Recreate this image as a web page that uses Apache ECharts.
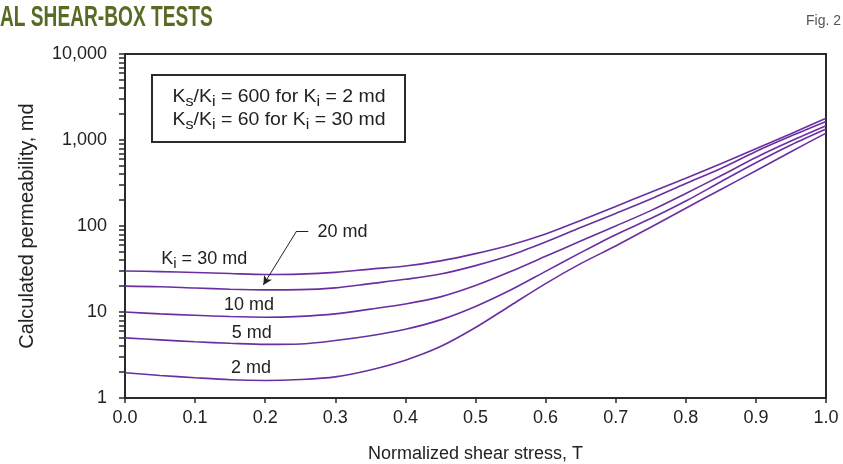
<!DOCTYPE html>
<html><head><meta charset="utf-8">
<script src="https://cdn.jsdelivr.net/npm/echarts@6/dist/echarts.min.js"></script>
<style>html,body{margin:0;padding:0;background:#fff}#c{width:843px;height:464px}</style>
</head><body><div id="c"></div>
<script>
// ---- data ----
const T = [0, 0.05, 0.1, 0.15, 0.2, 0.25, 0.3, 0.35, 0.4, 0.45, 0.5, 0.55, 0.6, 0.65, 0.7, 0.75, 0.8, 0.85, 0.9, 0.95, 1.0];
const k30 = [30, 29.5, 28.8, 28.0, 27.3, 27.6, 28.9, 31.5, 34.2, 39.3, 47.7, 60.2, 80.7, 116, 169, 247, 359, 530, 791, 1181, 1795];
const k20 = [20, 19.7, 19.0, 18.4, 18.1, 18.2, 19.1, 21.4, 24.0, 27.6, 34.6, 45.6, 65, 96, 140, 206, 312, 467, 735, 1110, 1640];
const k10 = [10, 9.5, 9.16, 8.85, 8.7, 8.9, 9.5, 10.8, 12.4, 15.0, 20.3, 29.5, 44.4, 66.9, 100, 151, 239, 384, 626, 971, 1462];
const k5  = [5.0, 4.74, 4.5, 4.33, 4.2, 4.25, 4.66, 5.3, 6.3, 8.1, 11.6, 18.0, 29.7, 49, 79.3, 122, 195, 327, 543, 873, 1339];
const k2  = [1.97, 1.83, 1.72, 1.63, 1.60, 1.64, 1.76, 2.12, 2.75, 3.96, 6.6, 11.9, 21.4, 36.5, 58.6, 96.8, 161, 266, 439, 730, 1203];
const curveNames = ['Ki = 30 md', '20 md', '10 md', '5 md', '2 md'];
const yLabelVals = [1, 10, 100, 1000, 10000];
const yTickVals = [1,2,3,4,5,6,7,8,9,10,20,30,40,50,60,70,80,90,100,200,300,400,500,600,700,800,900,1000,2000,3000,4000,5000,6000,7000,8000,9000,10000];

// ---- styles ----
const FF = '"Liberation Sans", Arial, Helvetica, sans-serif';
const LINE = '#6a2fa0';
const AX = '#2a2a2a';
const TXT = '#222';

const chart = echarts.init(document.getElementById('c'), null, {renderer: 'canvas'});
const curves = [k30, k20, k10, k5, k2];
const subRich = {s: {fontSize: 15, lineHeight: 16, verticalAlign: 'bottom', fontFamily: FF, color: TXT}};

const series = curves.map((arr, i) => ({
  type: 'line',
  name: curveNames[i],
  data: T.map((t, j) => [t, arr[j]]),
  smooth: 0.3,
  symbol: 'none',
  silent: true,
  lineStyle: {color: LINE, width: 1.6},
  itemStyle: {color: LINE},
  z: 3
}));

series[0].markPoint = {
  silent: true,
  symbol: 'circle', symbolSize: 1,
  itemStyle: {color: 'rgba(0,0,0,0)'},
  label: {show: true, position: 'inside', color: TXT, fontFamily: FF, fontSize: 18, lineHeight: 24, rich: subRich},
  data: [
    {coord: [0.113, 40.8], label: {formatter: 'K{s|i} = 30 md'}},
    {coord: [0.3103, 84.0], label: {formatter: curveNames[1]}},
    {coord: [0.1769, 12.06], label: {formatter: curveNames[2]}},
    {coord: [0.1807, 5.74], label: {formatter: curveNames[3]}},
    {coord: [0.1797, 2.215], label: {formatter: curveNames[4]}}
  ]
};
series[0].markLine = {
  silent: true,
  label: {show: false},
  lineStyle: {color: TXT, width: 1, type: 'solid'},
  symbolSize: [7, 9],
  data: [
    [{coord: [0.2615, 87.5], symbol: 'none'}, {coord: [0.2449, 87.5], symbol: 'none'}],
    [{coord: [0.2449, 87.5], symbol: 'none'}, {coord: [0.1973, 20.6], symbol: 'arrow'}]
  ]
};

const option = {
  animation: false,
  backgroundColor: '#fff',
  grid: {left: 125, right: 17, top: 54, bottom: 66, outerBoundsMode: 'none', containLabel: false,
         show: true, borderColor: AX, borderWidth: 2, backgroundColor: 'transparent'},
  xAxis: {
    type: 'value', min: 0, max: 1, interval: 0.1,
    axisLine: {show: true, lineStyle: {color: AX, width: 2}},
    axisTick: {show: true, inside: false, length: 5, lineStyle: {color: AX, width: 1.5}},
    axisLabel: {formatter: v => v.toFixed(1), fontFamily: FF, fontSize: 18, color: TXT, margin: 11},
    splitLine: {show: false},
    name: 'Normalized shear stress, T', nameLocation: 'middle', nameGap: 47,
    nameTextStyle: {fontFamily: FF, fontSize: 18, color: TXT}
  },
  yAxis: {
    type: 'log', logBase: 10, min: 1, max: 10000,
    axisLine: {show: true, lineStyle: {color: AX, width: 2}},
    axisTick: {show: true, inside: false, length: 6, lineStyle: {color: AX, width: 1.5}, customValues: yTickVals},
    axisLabel: {customValues: yLabelVals, formatter: v => Number(v).toLocaleString('en-US'), fontFamily: FF, fontSize: 18, color: TXT, margin: 18},
    splitLine: {show: false},
    minorTick: {show: false},
    name: 'Calculated permeability, md', nameLocation: 'middle', nameGap: 88, nameRotate: 90,
    nameTextStyle: {fontFamily: FF, fontSize: 20, color: TXT}
  },
  graphic: [
    {type: 'text', x: 0, y: 17.5, scaleX: 0.66, silent: true,
     style: {text: 'AL SHEAR-BOX TESTS', fontFamily: FF, fontWeight: 'bold', fontSize: 29, fill: '#586b24', align: 'left', verticalAlign: 'middle'}},
    {type: 'text', x: 841, y: 21, silent: true,
     style: {text: 'Fig. 2', fontFamily: FF, fontSize: 14, fill: '#555', align: 'right', verticalAlign: 'middle'}},
    {type: 'rect', silent: true, z: 10, shape: {x: 152, y: 75, width: 253, height: 67},
     style: {fill: '#fff', stroke: AX, lineWidth: 2}},
    {type: 'text', x: 279, y: 97.5, scaleX: 1.08, silent: true, z: 11,
     style: {text: 'K{s|s}/K{s|i} = 600 for K{s|i} = 2 md', rich: subRich, fontFamily: FF, fontSize: 18, lineHeight: 24, fill: TXT, align: 'center', verticalAlign: 'middle'}},
    {type: 'text', x: 279, y: 120, scaleX: 1.08, silent: true, z: 11,
     style: {text: 'K{s|s}/K{s|i} = 60 for K{s|i} = 30 md', rich: subRich, fontFamily: FF, fontSize: 18, lineHeight: 24, fill: TXT, align: 'center', verticalAlign: 'middle'}}
  ],
  series: series
};
chart.setOption(option);
</script>
</body></html>
